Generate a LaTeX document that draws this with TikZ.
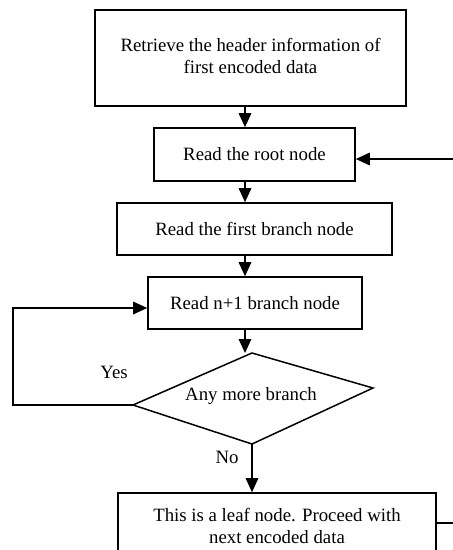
\documentclass[tikz,border=0pt]{standalone}
\usepackage{fontspec}
\setmainfont{Liberation Serif}
\usetikzlibrary{arrows.meta}
\begin{document}
\begin{tikzpicture}[x=1pt,y=-1pt,
  box/.style={draw, line width=1.6pt, inner sep=0pt, align=center, font=\fontsize{18.8}{22.5}\selectfont},
  lbl/.style={inner sep=0pt, font=\fontsize{18.8}{22.5}\selectfont},
  conn/.style={line width=1.6pt, -{Triangle[length=14pt,width=12.5pt]}},
  plain/.style={line width=1.5pt}]
\useasboundingbox (0,0) rectangle (453,550);
\clip (0,0) rectangle (453,550);
\fill[white] (0,0) rectangle (453,550);
\node[box, minimum width=311pt, minimum height=96pt] (b1) at (250.5,58) {\raisebox{-3pt}{\begin{tabular}{@{}c@{}}Retrieve the header information of\\first encoded data\end{tabular}}};
\node[box, minimum width=201pt, minimum height=53pt] (root) at (254.5,154.5) {Read the root node};
\node[box, minimum width=275pt, minimum height=52pt] (first) at (254.5,229) {Read the first branch node};
\node[box, minimum width=214pt, minimum height=52pt] (n1) at (255,303) {Read n+1 branch node};
\node[box, minimum width=318pt, minimum height=66pt] (leaf) at (277,526) {This is a leaf node. Proceed with\\next encoded data};
\coordinate (dt) at (252,353);
\coordinate (dr) at (373,388);
\coordinate (db) at (252,444);
\coordinate (dl) at (133,405);
\draw[plain, line join=miter] (dt) -- (dr) -- (db) -- (dl) -- cycle;
\node[lbl] (dq) at (251,396) {Any more branch};
\coordinate (col) at (245,0);
\coordinate (lp) at (13,0);
\draw[conn] (b1.south -| col) -- (root.north -| col);
\draw[conn] (root.south -| col) -- (first.north -| col);
\draw[conn] (first.south -| col) -- (n1.north -| col);
\draw[conn] (n1.south -| col) -- (dt -| col);
\draw[conn] (dl) -- (dl -| lp) |- ([yshift=-5pt]n1.west);
\draw[conn] (db) -- (leaf.north -| db);
\draw[conn] ([yshift=3pt]leaf.east) -- ++(40,0) |- ([yshift=-4.5pt]root.east);
\node[lbl] (yes) at (114,372) {Yes};
\node[lbl] (no) at (227,457) {No};
\end{tikzpicture}
\end{document}
